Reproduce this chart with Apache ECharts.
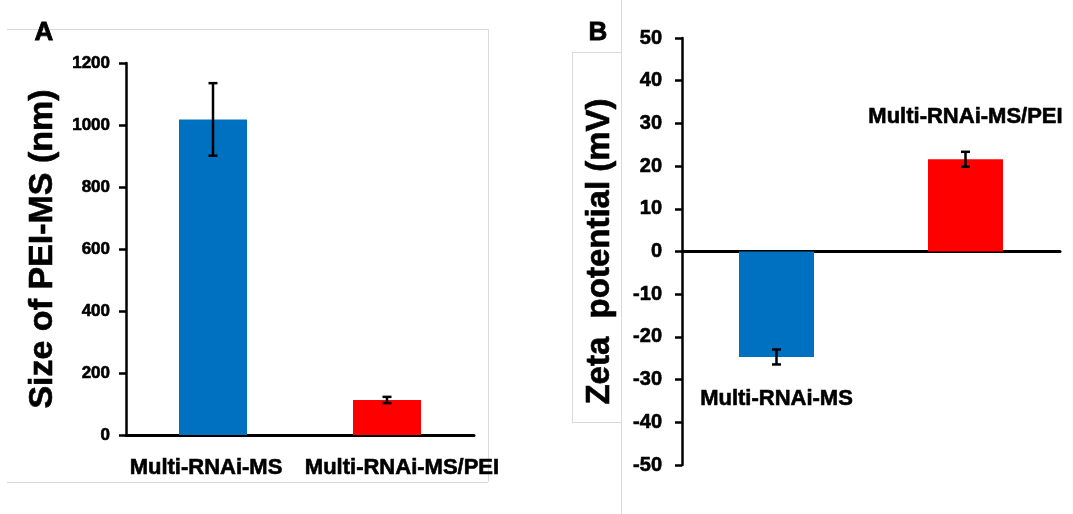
<!DOCTYPE html>
<html>
<head>
<meta charset="utf-8">
<script src="https://cdn.jsdelivr.net/npm/echarts@6/dist/echarts.min.js"></script>
<style>
  html, body { margin: 0; padding: 0; background: #fff; }
  #chart { width: 1073px; height: 514px; }
</style>
</head>
<body>
<div id="chart"></div>
<script>
// panel A: particle size
const sizeCats = ['Multi-RNAi-MS', 'Multi-RNAi-MS/PEI'];
const sizeMean = [1018, 113];
const sizeErr = [117, 10];
const sizeTicks = [0, 200, 400, 600, 800, 1000, 1200];

// panel B: zeta potential
const zetaCats = ['Multi-RNAi-MS', 'Multi-RNAi-MS/PEI'];
const zetaMean = [-24.7, 21.6];
const zetaErr = [1.75, 1.75];
const zetaTicks = [-50, -40, -30, -20, -10, 0, 10, 20, 30, 40, 50];

const barColors = ['#0070c0', '#ff0000'];
const font = '"Liberation Sans", Arial, sans-serif';
// slight outline so the bold text looks as heavy as in the figure
const heavy = { textBorderColor: '#000', textBorderWidth: 0.6 };

function errorBars(xIdx, yIdx, means, errs) {
  return {
    type: 'custom',
    xAxisIndex: xIdx,
    yAxisIndex: yIdx,
    z: 10,
    data: means.map((m, i) => [i, m - errs[i], m + errs[i]]),
    renderItem: function (params, api) {
      const lo = api.coord([api.value(0), api.value(1)]);
      const hi = api.coord([api.value(0), api.value(2)]);
      const w = 4.5;
      const st = { stroke: '#000', lineWidth: 2.5 };
      return {
        type: 'group',
        children: [
          { type: 'line', shape: { x1: lo[0], y1: lo[1], x2: hi[0], y2: hi[1] }, style: st },
          { type: 'line', shape: { x1: lo[0] - w, y1: lo[1], x2: lo[0] + w, y2: lo[1] }, style: st },
          { type: 'line', shape: { x1: hi[0] - w, y1: hi[1], x2: hi[0] + w, y2: hi[1] }, style: st }
        ]
      };
    }
  };
}

const chart = echarts.init(document.getElementById('chart'));

const frame = { stroke: '#d9d9d9', lineWidth: 1 };

chart.setOption({
  backgroundColor: '#fff',
  animation: false,
  textStyle: { fontFamily: font },
  graphic: [
    { type: 'line', shape: { x1: 7, y1: 29.5, x2: 488, y2: 29.5 }, style: frame },
    { type: 'line', shape: { x1: 488.5, y1: 29, x2: 488.5, y2: 482 }, style: frame },
    { type: 'line', shape: { x1: 7, y1: 482.5, x2: 488, y2: 482.5 }, style: frame },
    { type: 'line', shape: { x1: 621.5, y1: 0, x2: 621.5, y2: 514 }, style: frame },
    { type: 'line', shape: { x1: 572, y1: 52.5, x2: 621, y2: 52.5 }, style: frame },
    { type: 'line', shape: { x1: 572, y1: 422.5, x2: 621, y2: 422.5 }, style: frame },
    { type: 'line', shape: { x1: 572.5, y1: 52, x2: 572.5, y2: 422 }, style: frame },
    { type: 'text', left: 34, top: 19, style: { text: 'A', font: 'bold 26px ' + font, fill: '#000', stroke: '#000', lineWidth: 0.8 } },
    { type: 'text', left: 588, top: 19, style: { text: 'B', font: 'bold 26px ' + font, fill: '#000', stroke: '#000', lineWidth: 0.8 } }
  ],
  grid: [
    { left: 126, right: 599, top: 63, bottom: 79 },
    { left: 682, right: 13, top: 38, bottom: 49 }
  ],
  xAxis: [
    {
      gridIndex: 0,
      type: 'category',
      data: [
        { value: sizeCats[0], textStyle: { padding: [0, 14, 0, 0] } },
        { value: sizeCats[1], textStyle: { padding: [0, 0, 0, 30] } }
      ],
      axisLine: { lineStyle: { color: '#000', width: 3 } },
      axisTick: { show: false },
      axisLabel: Object.assign({ color: '#000', fontWeight: 'bold', fontSize: 22, margin: 22, interval: 0, fontFamily: font }, heavy)
    },
    {
      gridIndex: 1,
      type: 'category',
      data: zetaCats,
      axisLine: { onZero: true, lineStyle: { color: '#000', width: 3 } },
      axisTick: { show: false },
      axisLabel: { show: false }
    }
  ],
  yAxis: [
    {
      gridIndex: 0,
      type: 'value',
      min: sizeTicks[0],
      max: sizeTicks[sizeTicks.length - 1],
      interval: sizeTicks[1] - sizeTicks[0],
      name: 'Size of PEI-MS (nm)',
      nameLocation: 'middle',
      nameGap: 66,
      nameTextStyle: Object.assign({ color: '#000', fontWeight: 'bold', fontSize: 34, fontFamily: font }, heavy),
      axisLine: { show: true, lineStyle: { color: '#000', width: 2.5 } },
      axisTick: { show: true, length: 7, lineStyle: { color: '#000', width: 2.5 } },
      splitLine: { show: false },
      axisLabel: Object.assign({ color: '#000', fontWeight: 'bold', fontSize: 17, margin: 16, fontFamily: font, formatter: v => String(v) }, heavy)
    },
    {
      gridIndex: 1,
      type: 'value',
      min: zetaTicks[0],
      max: zetaTicks[zetaTicks.length - 1],
      interval: zetaTicks[1] - zetaTicks[0],
      name: 'Zeta  potential (mV)',
      nameLocation: 'middle',
      nameGap: 66,
      nameTextStyle: Object.assign({ color: '#000', fontWeight: 'bold', fontSize: 33, fontFamily: font }, heavy),
      axisLine: { show: true, onZero: false, lineStyle: { color: '#000', width: 2.5 } },
      axisTick: { show: true, length: 7, lineStyle: { color: '#000', width: 2.5 } },
      splitLine: { show: false },
      axisLabel: Object.assign({ color: '#000', fontWeight: 'bold', fontSize: 20, margin: 20, fontFamily: font, formatter: v => String(v) }, heavy)
    }
  ],
  series: [
    {
      type: 'bar',
      xAxisIndex: 0,
      yAxisIndex: 0,
      barWidth: 68,
      data: sizeMean.map((v, i) => ({ value: v, itemStyle: { color: barColors[i] } }))
    },
    errorBars(0, 0, sizeMean, sizeErr),
    {
      type: 'bar',
      xAxisIndex: 1,
      yAxisIndex: 1,
      barWidth: 75,
      data: zetaMean.map((v, i) => ({
        value: v,
        itemStyle: { color: barColors[i] },
        label: Object.assign({
          show: true,
          position: v < 0 ? 'bottom' : 'top',
          distance: 31,
          formatter: zetaCats[i],
          color: '#000',
          fontWeight: 'bold',
          fontSize: 22,
          fontFamily: font
        }, heavy)
      }))
    },
    errorBars(1, 1, zetaMean, zetaErr)
  ]
});
</script>
</body>
</html>
